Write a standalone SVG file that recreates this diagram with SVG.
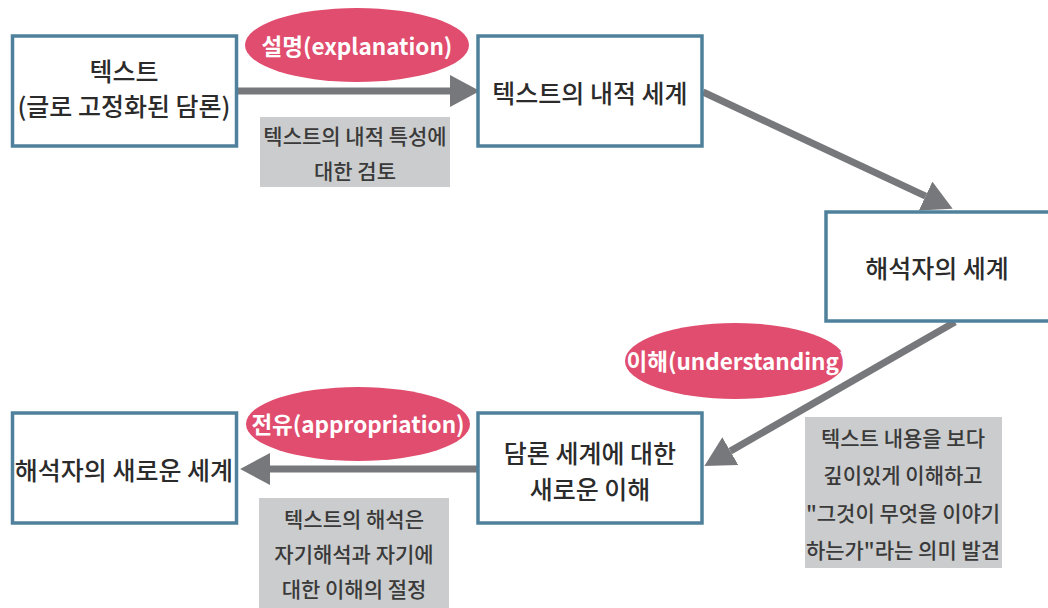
<svg xmlns="http://www.w3.org/2000/svg" width="1048" height="608" viewBox="0 0 1048 608">
<style>
.box{fill:#fff;stroke:#4f819c;stroke-width:3.5}
.t{font-family:"Noto Sans CJK KR","Noto Sans",sans-serif;font-size:25px;font-weight:500;fill:#2b2b2b;text-anchor:middle;dominant-baseline:central}
.note{fill:#cbcccd}
.nt{font-family:"Noto Sans CJK KR","Noto Sans",sans-serif;font-size:21px;font-weight:500;fill:#3a3a3a;text-anchor:middle;dominant-baseline:central}
.ell{fill:#e04d6e}
.et{font-family:"Noto Sans CJK KR","Noto Sans",sans-serif;font-size:22.5px;font-weight:bold;fill:#fff;text-anchor:middle;dominant-baseline:central}
.con{stroke:#77787b;stroke-width:7;fill:none}
</style>
<defs>
<marker id="ah" markerUnits="userSpaceOnUse" markerWidth="30" markerHeight="32" viewBox="0 0 28 30" refX="0" refY="15" orient="auto">
<path d="M0,0 L28,15 L0,30 z" fill="#77787b"/>
</marker>
</defs>
<g id="connectors">
<line class="con" x1="238" y1="91" x2="450" y2="91" marker-end="url(#ah)"/>
<line class="con" x1="703" y1="92" x2="925.6" y2="196.1" marker-end="url(#ah)"/>
<line class="con" x1="955" y1="322" x2="730.3" y2="451.1" marker-end="url(#ah)"/>
<line class="con" x1="477" y1="469" x2="270" y2="469" marker-end="url(#ah)"/>
</g>
<g id="node-text">
<rect class="box" x="12.5" y="36" width="224" height="110"/>
<text class="t" x="124" y="70">텍스트</text>
<text class="t" x="124" y="105">(글로 고정화된 담론)</text>
</g>
<g id="node-inner">
<rect class="box" x="478" y="36" width="224" height="110"/>
<text class="t" x="590" y="92">텍스트의 내적 세계</text>
</g>
<g id="node-interpreter">
<rect class="box" x="826" y="212" width="226" height="109"/>
<text class="t" x="937" y="267">해석자의 세계</text>
</g>
<g id="node-newunderstanding">
<rect class="box" x="478" y="413" width="224" height="110"/>
<text class="t" x="590" y="452">담론 세계에 대한</text>
<text class="t" x="590" y="488">새로운 이해</text>
</g>
<g id="node-newworld">
<rect class="box" x="12.5" y="413" width="224" height="110"/>
<text class="t" x="124" y="469">해석자의 새로운 세계</text>
</g>
<g id="label-explanation">
<ellipse class="ell" cx="357" cy="45" rx="112" ry="37"/>
<text class="et" x="357" y="45">설명(explanation)</text>
</g>
<g id="label-understanding">
<ellipse class="ell" cx="735" cy="361" rx="110" ry="38"/>
<text class="et" x="737" y="360">이해(understanding)</text>
</g>
<g id="label-appropriation">
<ellipse class="ell" cx="358" cy="424" rx="112" ry="37"/>
<text class="et" x="358" y="423">전유(appropriation)</text>
</g>
<g id="note-explanation">
<rect class="note" x="260" y="117" width="190" height="70"/>
<text class="nt" x="355" y="135">텍스트의 내적 특성에</text>
<text class="nt" x="355" y="170">대한 검토</text>
</g>
<g id="note-understanding">
<rect class="note" x="805" y="417" width="197" height="151"/>
<text class="nt" x="903" y="437">텍스트 내용을 보다</text>
<text class="nt" x="903" y="474">깊이있게 이해하고</text>
<text class="nt" x="903" y="512">"그것이 무엇을 이야기</text>
<text class="nt" x="903" y="549">하는가"라는 의미 발견</text>
</g>
<g id="note-appropriation">
<rect class="note" x="259" y="498" width="190" height="112"/>
<text class="nt" x="354" y="518">텍스트의 해석은</text>
<text class="nt" x="354" y="553">자기해석과 자기에</text>
<text class="nt" x="354" y="588">대한 이해의 절정</text>
</g>
</svg>
